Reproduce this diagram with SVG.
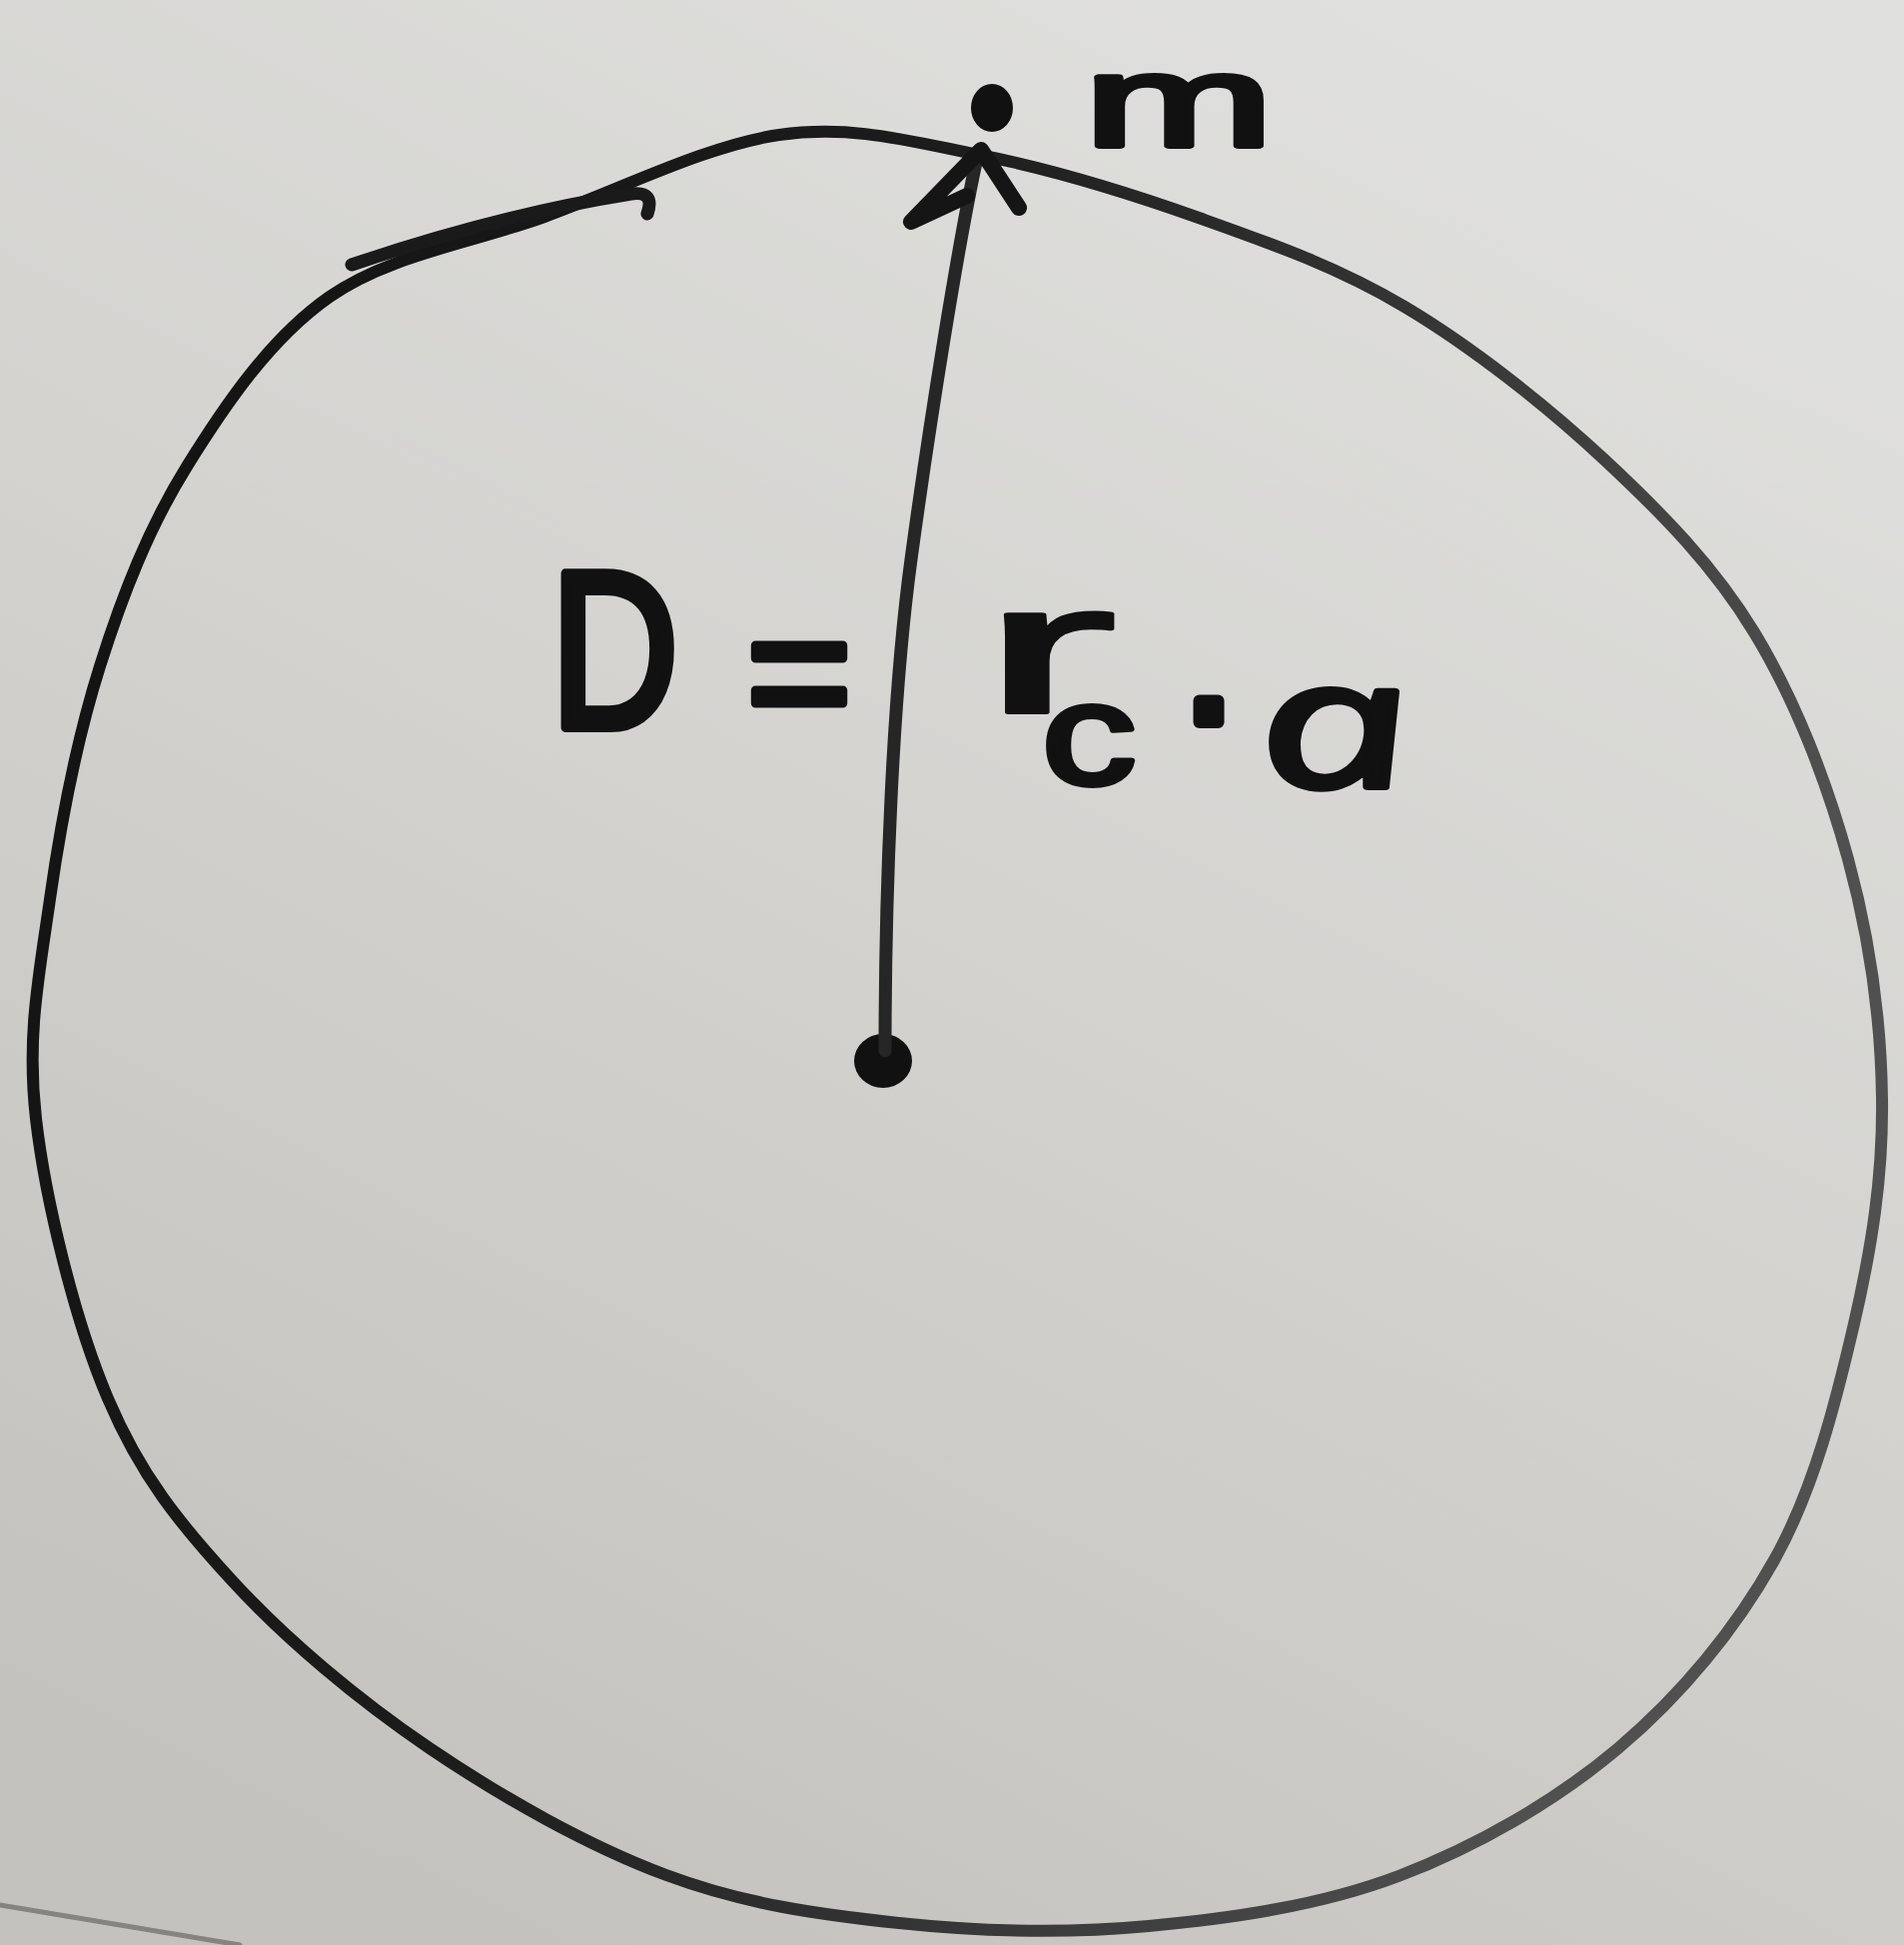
<svg xmlns="http://www.w3.org/2000/svg" width="1906" height="1947" viewBox="0 0 1906 1947">
<defs>
<linearGradient id="paper" x1="0.75" y1="0" x2="0.25" y2="1">
<stop offset="0" stop-color="#e0e0de"/>
<stop offset="0.5" stop-color="#d3d2cf"/>
<stop offset="1" stop-color="#c3c2be"/>
</linearGradient>
<linearGradient id="ink" x1="0" y1="0" x2="1" y2="0.3">
<stop offset="0" stop-color="#111"/>
<stop offset="0.45" stop-color="#1c1c1c"/>
<stop offset="1" stop-color="#505050"/>
</linearGradient>
</defs>
<style>
.pen{fill:none;stroke-linecap:round;stroke-linejoin:round}
.hand{font-family:"Liberation Sans","DejaVu Sans",sans-serif;fill:#111;stroke:#111;stroke-width:6;stroke-linejoin:round;stroke-linecap:round;text-anchor:middle}
</style>
<rect width="1906" height="1947" fill="url(#paper)"/>
<path class="pen" d="M 0,1907 L 240,1947" stroke="#858481" stroke-width="5"/>
<g id="circle">
<path class="pen" stroke="url(#ink)" stroke-width="12" d="M 330,297 C 270.3,338.7 225.3,405.3 187,467 C 148.7,528.7 122.8,594.8 100,667 C 77.2,739.2 60.7,824.5 50,900 C 39.3,975.5 26.3,1036.7 36,1120 C 45.7,1203.3 75.2,1322.8 108,1400 C 140.8,1477.2 179.3,1524.7 233,1583 C 286.7,1641.3 357.7,1701 430,1750 C 502.3,1799 588.7,1847.8 667,1877 C 745.3,1906.2 819.5,1916.5 900,1925 C 980.5,1933.5 1066.7,1935.8 1150,1928 C 1233.3,1920.2 1321.7,1907.7 1400,1878 C 1478.3,1848.3 1557.2,1803 1620,1750 C 1682.8,1697 1737.7,1630.8 1777,1560 C 1816.3,1489.2 1838.2,1401.7 1856,1325 C 1873.8,1248.3 1885,1177.5 1884,1100 C 1883,1022.5 1871.3,937.8 1850,860 C 1828.7,782.2 1796.7,699.7 1756,633 C 1715.3,566.3 1664.3,514.3 1606,460 C 1547.7,405.7 1473.7,347.3 1406,307 C 1338.3,266.7 1271,243.3 1200,218 C 1129,192.7 1050,168.8 980,155 C 910,141.2 852.5,124.7 780,135 C 707.5,145.3 620,190 545,217 C 470,244 389.7,255.3 330,297 Z"/>
<path class="pen" stroke="#1a1a1a" stroke-width="13" d="M 352,265 Q 500,215 632,194 Q 656,191 648,214"/>
</g>
<g id="center">
<ellipse cx="884" cy="1062" rx="29" ry="27" fill="#111"/>
</g>
<g id="mass">
<ellipse cx="993" cy="108" rx="21" ry="24" fill="#111"/>
<text class="hand" transform="translate(1180,146) scale(1.75,1)" font-size="130">m</text>
</g>
<g id="connectors">
<path class="pen" stroke="#262626" stroke-width="13" d="M 886,1052 C 886,900 893,700 912,560 S 960,240 978,158"/>
<path class="pen" stroke="#151515" stroke-width="16" d="M 968,196 L 912,222 L 982,150 L 1020,208"/>
</g>
<g id="formula">
<text class="hand" style="stroke-width:10" transform="translate(615,728) scale(0.8,1)" font-size="222">D</text>
<text class="hand" style="stroke-width:9" transform="translate(800,734)" font-size="180">=</text>
<text class="hand" style="stroke-width:4" transform="translate(1050,713) scale(2.2,1)" font-size="185">r</text>
<text class="hand" transform="translate(1090,785) scale(1.3,1)" font-size="145">c</text>
<text class="hand" style="stroke-width:12" transform="translate(1210,767)" font-size="200">·</text>
<text class="hand" style="font-family:'Open Sans','Liberation Sans',sans-serif;font-style:italic" transform="translate(1346,788) skewX(12) scale(1.5,1)" font-size="180">a</text>
</g>
</svg>
